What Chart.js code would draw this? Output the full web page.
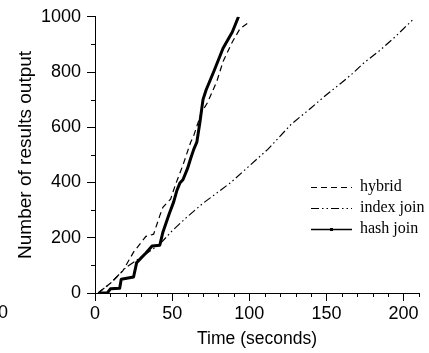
<!DOCTYPE html>
<html>
<head>
    <title>Results output over time</title>
    <script src="https://cdn.jsdelivr.net/npm/chart.js"></script>
    <style>
        html, body { margin: 0; padding: 0; background: #fff; }
        #wrap { width: 429px; height: 353px; }
    </style>
</head>
<body>
    <div id="wrap"><canvas id="joinChart" width="429" height="353"></canvas></div>
    <script>
        // values (time in seconds, results output)
        const seriesNames = ['hybrid', 'index join', 'hash join'];

        const hybridTime = [2, 10, 18, 25, 33, 38, 42, 44, 49, 52, 57, 62, 64, 69, 73, 79, 83, 89, 94, 100];
        const hybridCount = [0, 35, 80, 148, 205, 213, 280, 310, 340, 390, 463, 546, 570, 654, 690, 767, 838, 909, 957, 981];

        const indexTime = [2, 10, 20, 30, 42, 50, 59, 70, 78, 88, 100, 112, 127, 140, 150, 160, 167, 174, 185, 195, 207];
        const indexCount = [0, 35, 92, 130, 177, 225, 272, 325, 358, 400, 460, 520, 610, 670, 718, 762, 795, 832, 880, 930, 995];

        const hashTime = [3, 8, 10, 16, 17, 25, 27, 33, 37, 42, 44, 48, 51, 53, 55, 57, 60, 62, 64, 66, 68, 70, 72, 77, 83, 89, 93];
        const hashCount = [0, 0, 15, 17, 50, 58, 110, 145, 170, 173, 220, 285, 330, 370, 398, 410, 451, 487, 520, 546, 618, 700, 735, 802, 886, 945, 1000];

        const xTicks = [0, 50, 100, 150, 200];
        const yTicks = [0, 200, 400, 600, 800, 1000];

        function toPoints(xs, ys) {
            return xs.map((x, i) => ({ x: x, y: ys[i] }));
        }

        const sansFont = '"Liberation Sans", Arial, sans-serif';
        const serifFont = '"Liberation Serif", "Times New Roman", serif';

        const dashes = [[6, 4], [8, 3, 1.5, 3, 1.5, 3], []];

        // minor ticks, legend and the clipped neighbour label
        const extras = {
            id: 'extras',
            afterDraw(chart) {
                const ctx = chart.ctx;
                const xs = chart.scales.x, ys = chart.scales.y;
                ctx.save();
                ctx.strokeStyle = '#000';
                ctx.lineWidth = 1;
                ctx.beginPath();
                for (let v = 10; v <= 210; v += 10) {
                    if (v % 50 === 0) continue;
                    const px = Math.round(xs.getPixelForValue(v)) + 0.5;
                    ctx.moveTo(px, ys.bottom);
                    ctx.lineTo(px, ys.bottom + 4);
                }
                for (let v = 100; v < 1000; v += 200) {
                    const py = Math.round(ys.getPixelForValue(v)) + 0.5;
                    ctx.moveTo(xs.left - 4, py);
                    ctx.lineTo(xs.left + 1, py);
                }
                ctx.stroke();

                // legend
                const rowY = [187, 208, 229];
                ctx.font = '16px ' + serifFont;
                ctx.textBaseline = 'middle';
                ctx.fillStyle = '#000';
                seriesNames.forEach((name, i) => {
                    ctx.beginPath();
                    ctx.setLineDash(dashes[i]);
                    ctx.lineWidth = i === 2 ? 1.3 : 1.2;
                    ctx.moveTo(311, rowY[i] + 0.5);
                    ctx.lineTo(352, rowY[i] + 0.5);
                    ctx.stroke();
                    ctx.setLineDash([]);
                    if (i === 2) {
                        ctx.fillRect(330, rowY[i] - 1, 3, 3);
                    }
                    ctx.fillText(name, 360, rowY[i]);
                });

                // partly cut label at the left edge
                ctx.font = '18px ' + sansFont;
                ctx.textAlign = 'right';
                ctx.fillText('0', 8, 313);
                ctx.restore();
            }
        };

        const ctx = document.getElementById('joinChart').getContext('2d');
        new Chart(ctx, {
            type: 'line',
            data: {
                datasets: [
                    {
                        label: seriesNames[0],
                        data: toPoints(hybridTime, hybridCount),
                        borderColor: '#000',
                        borderWidth: 1.2,
                        borderDash: dashes[0]
                    },
                    {
                        label: seriesNames[1],
                        data: toPoints(indexTime, indexCount),
                        borderColor: '#000',
                        borderWidth: 1.2,
                        borderDash: dashes[1]
                    },
                    {
                        label: seriesNames[2],
                        data: toPoints(hashTime, hashCount),
                        borderColor: '#000',
                        borderWidth: 3,
                        borderJoinStyle: 'round'
                    }
                ]
            },
            options: {
                responsive: false,
                animation: false,
                events: [],
                layout: { padding: { top: 13, right: 10, left: 0, bottom: 0 } },
                elements: {
                    point: { radius: 0 },
                    line: { tension: 0, fill: false }
                },
                scales: {
                    x: {
                        type: 'linear',
                        min: 0,
                        max: 210,
                        afterFit: s => { s.height = 60; },
                        border: { display: true, color: '#000', width: 1 },
                        grid: {
                            drawOnChartArea: false,
                            tickLength: 8,
                            color: c => xTicks.includes(c.tick.value) ? '#000' : 'rgba(0,0,0,0)'
                        },
                        ticks: {
                            stepSize: 10,
                            autoSkip: false,
                            maxRotation: 0,
                            padding: 2,
                            color: '#000',
                            font: { family: sansFont, size: 18 },
                            callback: v => xTicks.includes(v) ? v : ''
                        },
                        title: {
                            display: true,
                            text: 'Time (seconds)',
                            color: '#000',
                            font: { family: sansFont, size: 17.5 },
                            padding: { top: 0, bottom: 3 }
                        }
                    },
                    y: {
                        min: 0,
                        max: 1000,
                        afterFit: s => { s.width = 95; },
                        border: { display: true, color: '#000', width: 1 },
                        grid: {
                            drawOnChartArea: false,
                            tickLength: 8,
                            color: '#000'
                        },
                        ticks: {
                            stepSize: 200,
                            autoSkip: false,
                            padding: 6,
                            color: '#000',
                            font: { family: sansFont, size: 18 },
                            callback: v => yTicks.includes(v) ? v : ''
                        },
                        title: {
                            display: true,
                            text: 'Number of results output',
                            color: '#000',
                            font: { family: sansFont, size: 19 },
                            padding: { top: 14, bottom: 0 }
                        }
                    }
                },
                plugins: {
                    legend: { display: false },
                    tooltip: { enabled: false }
                }
            },
            plugins: [extras]
        });
    </script>
</body>
</html>
